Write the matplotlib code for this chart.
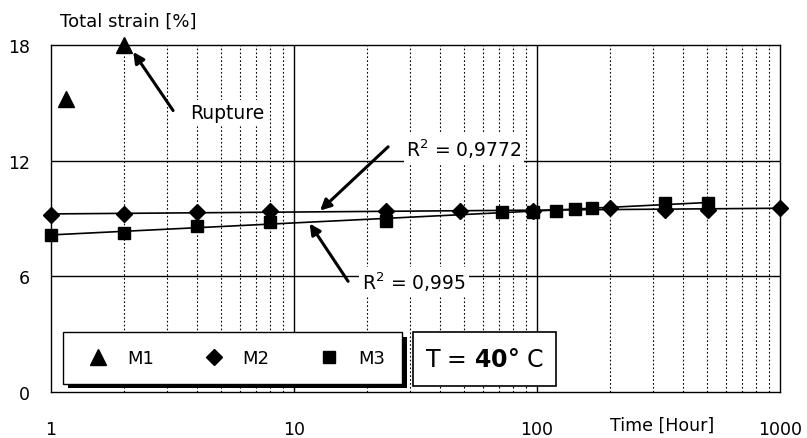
import numpy as np
import matplotlib.pyplot as plt
from matplotlib.patches import Rectangle
from matplotlib.ticker import FixedLocator, NullFormatter

# data
m1_t = [1.15, 2]
m1_eps = [15.2, 18.0]

m2_t = [1, 2, 4, 8, 24, 48, 96, 200, 336, 504, 1000]
m2_eps = [9.2, 9.23, 9.33, 9.39, 9.39, 9.4, 9.38, 9.55, 9.45, 9.45, 9.55]

m3_t = [1, 2, 4, 8, 24, 72, 96, 120, 144, 168, 336, 504]
m3_eps = [8.16, 8.25, 8.6, 8.82, 8.87, 9.34, 9.34, 9.4, 9.5, 9.55, 9.8, 9.8]

x_ticks = [1, 10, 100, 1000]
y_ticks = [0, 6, 12, 18]

W, H = 807, 439
fig = plt.figure(figsize=(W / 100, H / 100), dpi=100)
ax = fig.add_axes([51 / W, 1 - 393 / H, 729 / W, 347 / H])

ax.set_xscale('log')
ax.set_xlim(1, 1000)
ax.set_ylim(0, 18)

# grid
minor = [m * 10 ** k for k in range(3) for m in range(2, 10)]
for xv in minor:
    ax.axvline(xv, color='black', lw=0.8, ls=(0, (1.5, 2)), zorder=1)
for xv in [10, 100]:
    ax.axvline(xv, color='black', lw=1.0, zorder=1)
for yv in [6, 12]:
    ax.axhline(yv, color='black', lw=1.0, zorder=1)

# trend lines (log fit)
c2 = np.polyfit(np.log10(m2_t), m2_eps, 1)
c3 = np.polyfit(np.log10(m3_t), m3_eps, 1)
xx2 = np.logspace(0, np.log10(max(m2_t)), 50)
xx3 = np.logspace(0, np.log10(max(m3_t)), 50)
ax.plot(xx2, np.polyval(c2, np.log10(xx2)), color='black', lw=1.2, zorder=2)
ax.plot(xx3, np.polyval(c3, np.log10(xx3)), color='black', lw=1.2, zorder=2)

ax.plot(m1_t, m1_eps, ls='none', marker='^', ms=12, color='black', label='M1', zorder=4, clip_on=False)
ax.plot(m2_t, m2_eps, ls='none', marker='D', ms=8, color='black', label='M2', zorder=4, clip_on=False)
ax.plot(m3_t, m3_eps, ls='none', marker='s', ms=8.5, color='black', label='M3', zorder=4, clip_on=False)

ax.xaxis.set_major_locator(FixedLocator(x_ticks))
ax.xaxis.set_minor_locator(FixedLocator(minor))
ax.xaxis.set_minor_formatter(NullFormatter())
ax.set_xticklabels([str(v) for v in x_ticks])
ax.set_yticks(y_ticks)
ax.tick_params(axis='both', which='both', length=0, labelsize=12.5)
ax.tick_params(axis='x', pad=20)
ax.tick_params(axis='y', pad=15)
for s in ax.spines.values():
    s.set_color('black')
    s.set_linewidth(1.0)

# annotations
white = dict(facecolor='white', edgecolor='none', pad=2)
arrow = dict(arrowstyle='-|>', color='black', lw=2.2, mutation_scale=16, shrinkA=0, shrinkB=0)
ax.annotate('', xy=(2.18, 17.64), xytext=(3.18, 14.6), arrowprops=arrow, zorder=5)
ax.text(5.3, 14.5, 'Rupture', fontsize=13.5, ha='center', va='center', bbox=white, zorder=3)

ax.annotate('', xy=(12.8, 9.41), xytext=(24.4, 12.72), arrowprops=arrow, zorder=5)
ax.text(50, 12.62, r'R$^2$ = 0,9772', fontsize=13.5, ha='center', va='center', bbox=white, zorder=3)

ax.annotate('', xy=(11.6, 8.74), xytext=(16.7, 5.74), arrowprops=arrow, zorder=5)
ax.text(31.2, 5.74, r'R$^2$ = 0,995', fontsize=13.5, ha='center', va='center', bbox=white, zorder=3)

# legend with a black drop shadow
ax.add_patch(Rectangle(((63 + 5 - 51) / 729, (393 - 389) / 347), 339 / 729, 51 / 347,
                       transform=ax.transAxes, facecolor='black', edgecolor='none', zorder=5.5))
leg = ax.legend(loc='lower left', bbox_to_anchor=((63 - 51) / 729, (393 - 385) / 347, 339 / 729, 0.1),
                mode='expand', ncol=3, fontsize=13, frameon=True, fancybox=False,
                edgecolor='black', framealpha=1, borderpad=0.95, handletextpad=0.6,
                borderaxespad=0)
leg.get_frame().set_linewidth(1.0)
leg.set_zorder(6)

# temperature box
ax.add_patch(Rectangle(((413 - 51) / 729, (393 - 387) / 347), 143 / 729, 54 / 347,
                       transform=ax.transAxes, facecolor='white', edgecolor='black', lw=1.2, zorder=6))
ax.text((484 - 51) / 729, (393 - 360) / 347, r'T = $\mathbf{40°}$ C', transform=ax.transAxes,
        fontsize=17, ha='center', va='center', zorder=7)

fig.text(60 / W, 1 - 22 / H, 'Total strain [%]', fontsize=13, ha='left', va='center')
fig.text(662 / W, 1 - 426 / H, 'Time [Hour]', fontsize=12.5, ha='center', va='center')

fig.savefig('out.png', dpi=100)
